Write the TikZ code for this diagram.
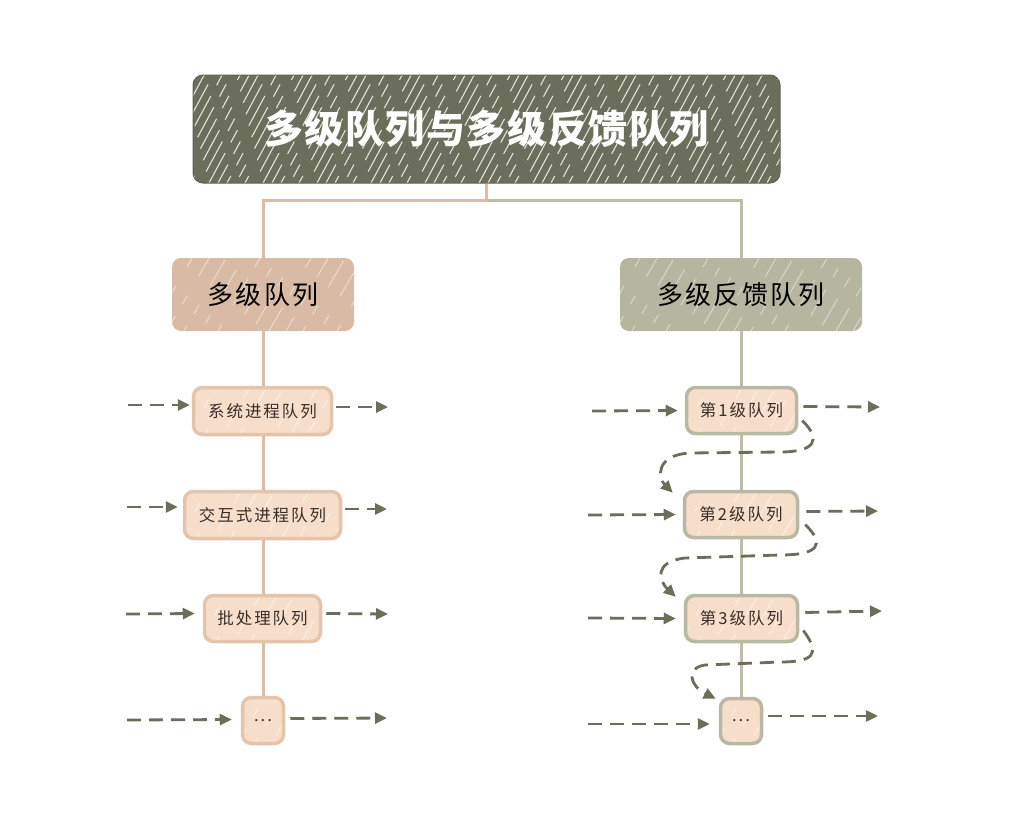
\documentclass[tikz,border=0pt]{standalone}
\usepackage{fontspec}
\newfontfamily\cjk{Noto Sans CJK SC}
\newfontfamily\cjksp[LetterSpace=12]{Noto Sans CJK SC}
\newfontfamily\cjkhd[LetterSpace=8]{Noto Sans CJK SC}
\newfontfamily\cjkti[LetterSpace=4]{Noto Sans CJK SC}
\usetikzlibrary{arrows.meta,calc}
\definecolor{titlefill}{HTML}{6A6E5A}
\definecolor{pinkfill}{HTML}{D9BBA5}
\definecolor{pinkline}{HTML}{DDBCA7}
\definecolor{greyfill}{HTML}{B5B5A0}
\definecolor{greyline}{HTML}{BDBDA8}
\definecolor{childfill}{HTML}{F6DECB}
\definecolor{pinkborder}{HTML}{E5C4AC}
\definecolor{greyborder}{HTML}{B9B8A3}
\definecolor{darktext}{HTML}{3A2E27}
\definecolor{arrowcol}{HTML}{6A6E5A}
\tikzset{
  hatch/.style={path picture={
    \foreach \k in {0,...,45}{
      \draw[white,opacity=#1,line width=1pt,dash pattern=on 30pt off 14pt on 10pt off 22pt,dash phase=\k*11pt]
        ([xshift=\k*17pt-260pt]path picture bounding box.south west) -- ++(150pt,260pt);
    }}},
  densehatch/.style={path picture={
    \foreach \k in {0,...,95}{
      \draw[white,opacity=#1,line width=1.1pt,dash pattern=on 34pt off 12pt on 14pt off 18pt,dash phase=\k*13pt]
        ([xshift=\k*9pt-200pt]path picture bounding box.south west) -- ++(70pt,130pt);
    }}},
  titlebox/.style={rounded corners=10pt,fill=titlefill,draw=titlefill!90!black,line width=1pt,
    text=white,font=\cjkti\bfseries\fontsize{39}{44}\selectfont,densehatch=0.8,inner sep=0pt},
  pinkhdr/.style={rounded corners=9pt,fill=pinkfill,hatch=0.45,inner sep=0pt,
    text=black,font=\cjkhd\fontsize{26}{30}\selectfont},
  greyhdr/.style={rounded corners=9pt,fill=greyfill,hatch=0.45,inner sep=0pt,
    text=black,font=\cjkhd\fontsize{26}{30}\selectfont},
  pinkchild/.style={rounded corners=9pt,fill=childfill,draw=pinkborder,line width=3.5pt,hatch=0.5,
    inner sep=0pt,text=darktext,font=\cjksp\fontsize{16.5}{20}\selectfont},
  greychild/.style={rounded corners=9pt,fill=childfill,draw=greyborder,line width=3.5pt,hatch=0.5,
    inner sep=0pt,text=darktext,font=\cjksp\fontsize{16.5}{20}\selectfont},
  pinkconn/.style={draw=pinkline,line width=3pt},
  greyconn/.style={draw=greyline,line width=3pt},
  darr/.style={draw=arrowcol,line width=2.8pt,dash pattern=on 14pt off 8pt,
    -{Triangle[length=12pt,width=11pt]}},
}
\begin{document}
\begin{tikzpicture}[x=1pt,y=-1pt]
\useasboundingbox[fill=white] (0,0) rectangle (1012,835);

% nodes
\node[titlebox,minimum width=587,minimum height=108] (title) at (486.5,129) {多级队列与多级反馈队列};
\node[pinkhdr,minimum width=182,minimum height=73] (lh) at (263,294.5) {多级队列};
\node[greyhdr,minimum width=242,minimum height=73] (rh) at (741,294.5) {多级反馈队列};

% tree lines
\draw[pinkconn] (title.south) -- ++(0,17) -| (lh.north);
\draw[greyconn] (title.south) ++(0,17) -| (rh.north);
\draw[pinkconn] (lh.south) -- (263,696);
\draw[greyconn] (rh.south) -- (741,697);

\node[pinkchild,minimum width=138,minimum height=47] (l1) at (262.5,411) {系统进程队列};
\node[pinkchild,minimum width=156,minimum height=47] (l2) at (262.5,515) {交互式进程队列};
\node[pinkchild,minimum width=116,minimum height=46] (l3) at (262.5,618.5) {批处理队列};
\node[pinkchild,minimum width=41,minimum height=46] (l4) at (263,720.5) {...};

\node[greychild,minimum width=110,minimum height=46] (r1) at (741.5,410.5) {第1级队列};
\node[greychild,minimum width=113,minimum height=46] (r2) at (741,514.5) {第2级队列};
\node[greychild,minimum width=112,minimum height=46] (r3) at (741.5,618.5) {第3级队列};
\node[greychild,minimum width=41,minimum height=45] (r4) at (741,721) {...};

% free ends
\coordinate (li1) at (128,405); \coordinate (lo1) at (388,407);
\coordinate (li2) at (127,507); \coordinate (lo2) at (387,509);
\coordinate (li3) at (126,614); \coordinate (lo3) at (388,614);
\coordinate (li4) at (127,720); \coordinate (lo4) at (387,718);
\coordinate (ri1) at (592,411); \coordinate (ro1) at (880,407);
\coordinate (ri2) at (588,515); \coordinate (ro2) at (878,511);
\coordinate (ri3) at (588,618); \coordinate (ro3) at (882,611);
\coordinate (ri4) at (588,724); \coordinate (ro4) at (878,716);

% left arrows
\draw[darr] (li1) -- ([xshift=-2pt,yshift=6pt]l1.west);
\draw[darr] ([xshift=3pt,yshift=4pt]l1.east) -- (lo1);
\draw[darr] (li2) -- ([xshift=-5pt,yshift=8pt]l2.west);
\draw[darr] ([xshift=3pt,yshift=6pt]l2.east) -- (lo2);
\draw[darr] (li3) -- ([xshift=-8pt,yshift=5pt]l3.west);
\draw[darr] ([xshift=4pt,yshift=5pt]l3.east) -- (lo3);
\draw[darr] (li4) -- ([xshift=-9pt,yshift=1pt]l4.west);
\draw[darr] ([xshift=5pt,yshift=2pt]l4.east) -- (lo4);

% right arrows
\draw[darr] (ri1) -- ([xshift=-7pt]r1.west);
\draw[darr] ([xshift=5pt,yshift=4pt]r1.east) -- (ro1);
\draw[darr] (ri2) -- ([xshift=-7pt]r2.west);
\draw[darr] ([xshift=7pt,yshift=3pt]r2.east) -- (ro2);
\draw[darr] (ri3) -- ([xshift=-8pt]r3.west);
\draw[darr] ([xshift=6pt,yshift=6pt]r3.east) -- (ro3);
\draw[darr] (ri4) -- ([xshift=-9pt,yshift=-3pt]r4.west);
\draw[darr] ([xshift=5pt,yshift=5pt]r4.east) -- (ro4);

% feedback arrows
\draw[darr] ([xshift=4pt,yshift=-10pt]r1.east) .. controls (822,440) and (815,452) .. (780,452)
  -- (690,453) .. controls (655,455) and (658,478) .. ([xshift=-10pt,yshift=-3pt]r2.north west);
\draw[darr] ([xshift=6pt,yshift=-10pt]r2.east) .. controls (826,545) and (818,555) .. (780,555)
  -- (685,558) .. controls (652,562) and (660,582) .. ([xshift=-8pt,yshift=-3pt]r3.north west);
\draw[darr] ([xshift=4pt,yshift=-12pt]r3.east) .. controls (822,655) and (812,662) .. (780,662)
  -- (705,665) .. controls (685,668) and (690,686) .. ([xshift=-3pt,yshift=-2pt]r4.north west);
\end{tikzpicture}
\end{document}
